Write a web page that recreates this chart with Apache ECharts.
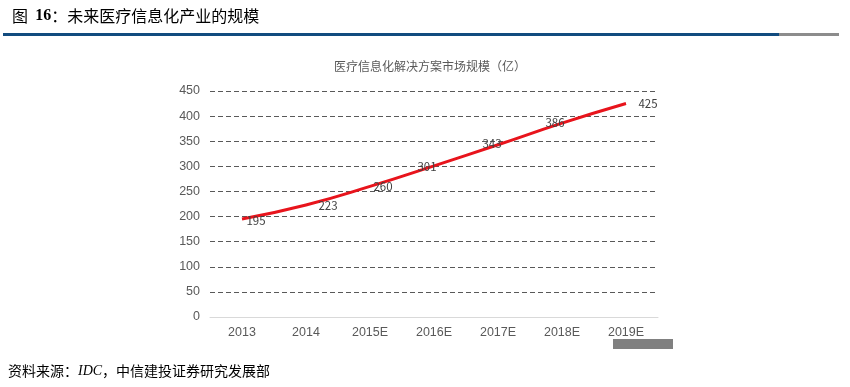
<!DOCTYPE html>
<html><head><meta charset="utf-8">
<script src="https://cdn.jsdelivr.net/npm/echarts@6/dist/echarts.min.js"></script>
<style>html,body{margin:0;padding:0;background:#fff}#c{width:850px;height:387px}</style>
</head><body><div id="c"></div>
<script>
const categories = ['2013','2014','2015E','2016E','2017E','2018E','2019E'];
const marketSize = [195, 223, 260, 301, 343, 386, 425];
const yTicks = [0, 50, 100, 150, 200, 250, 300, 350, 400, 450];

const labelOffsets = [[14,2],[22,1],[13,0],[-7,1],[-6,-1],[-7,-1],[22,0]];

const chart = echarts.init(document.getElementById('c'), null, {renderer:'canvas'});
const font = '"Noto Sans CJK SC", "Liberation Sans", sans-serif';
chart.setOption({
  animation:false,
  backgroundColor:'#fff',
  title:{
    text:'医疗信息化解决方案市场规模（亿）',
    left:425, top:55, textAlign:'center',
    textStyle:{color:'#595959', fontSize:12, fontWeight:'normal', fontFamily:font}
  },
  grid:{left:210, right:192, top:91, bottom:70},
  xAxis:{
    type:'category', data:categories, boundaryGap:true,
    axisLine:{show:true, lineStyle:{color:'#d9d9d9', width:1}},
    axisTick:{show:false},
    axisLabel:{color:'#595959', fontSize:12.5, margin:9, fontFamily:'"Liberation Sans", Arial, sans-serif'}
  },
  yAxis:{
    type:'value', min:yTicks[0], max:yTicks[yTicks.length-1], interval:50,
    axisLine:{show:false}, axisTick:{show:false},
    axisLabel:{color:'#595959', fontSize:12.5, margin:10, fontFamily:'"Liberation Sans", Arial, sans-serif'},
    splitLine:{show:true, lineStyle:{color:'#595959', type:[5,3], width:1}}
  },
  series:[{
    type:'line', smooth:true, symbol:'circle', symbolSize:1, showSymbol:true,
    data: marketSize.map((v,i)=>({value:v, label:{offset:labelOffsets[i]}})),
    lineStyle:{color:'#e8141c', width:3},
    itemStyle:{color:'rgba(0,0,0,0)'},
    label:{show:true, position:'inside', color:'#404040', fontSize:11.5, fontFamily:font}
  }],
  graphic:[
    {type:'text', left:12, top:8, style:{
      text:'{a|图  }{b|16}{a|：未来医疗信息化产业的规模}',
      rich:{
        a:{fontSize:16, fill:'#000', fontFamily:font},
        b:{fontSize:16, fill:'#000', fontWeight:'bold', fontFamily:'"Liberation Serif", serif'}
      }}},
    {type:'rect', shape:{x:3, y:33, width:776, height:3}, style:{fill:'#124c7f'}},
    {type:'rect', shape:{x:779, y:33, width:60, height:3}, style:{fill:'#8c8c8c'}},
    {type:'rect', shape:{x:613, y:339, width:60, height:10}, style:{fill:'#808080'}},
    {type:'text', left:8, top:364, style:{
      text:'{a|资料来源：}{i|IDC}{a|，中信建投证券研究发展部}',
      rich:{
        a:{fontSize:14, fill:'#000', fontFamily:font},
        i:{fontSize:14, fill:'#000', fontStyle:'italic', fontFamily:'"Liberation Serif", serif'}
      }}}
  ]
});
</script></body></html>
